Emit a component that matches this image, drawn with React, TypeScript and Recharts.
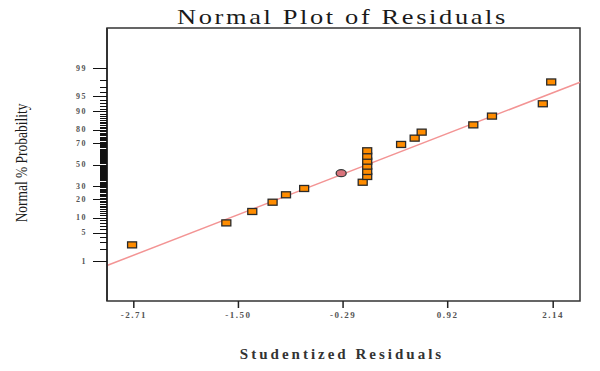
import { ScatterChart, Scatter, XAxis, YAxis, ReferenceLine, ReferenceArea } from "recharts";

// studentized residuals vs normal % probability
const residuals = [-2.73, -1.64, -1.34, -1.105, -0.95, -0.74, -0.063, -0.011, -0.011, -0.011, -0.011, -0.011, -0.011, 0.381, 0.538, 0.619, 1.216, 1.432, 2.02, 2.117];
const probs = [2.6, 7.9, 12.8, 18.1, 23.2, 28.1, 33.4, 38.6, 43.3, 48.4, 53.2, 57.9, 63.0, 68.6, 73.8, 78.3, 83.1, 87.9, 92.9, 97.7];

// the one round marker
const circleResidual = [-0.312];
const circleProb = [41.7];

// fitted reference line ends (residual, %)
const lineResidual = [-3.02, 2.45];
const lineProb = [0.73, 97.67];

const xTicks = [-2.71, -1.5, -0.29, 0.92, 2.14];
const xDomain = [-3.02, 2.45];
const labeledProbs = [1, 5, 10, 20, 30, 50, 70, 80, 90, 95, 99];
const minorProbs = Array.from({ length: 99 }, (_, i) => i + 1);

// inverse normal cdf (Acklam), used for the probability scale
function probit(pct: number) {
    const p = pct / 100;
    const a = [-39.69683028665376, 220.9460984245205, -275.9285104469687, 138.357751867269, -30.66479806614716, 2.506628277459239];
    const b = [-54.47609879822406, 161.5858368580409, -155.6989798598866, 66.80131188771972, -13.28068155288572];
    const c = [-0.007784894002430293, -0.3223964580411365, -2.400758277161838, -2.549732539343734, 4.374664141464968, 2.938163982698783];
    const d = [0.007784695709041462, 0.3224671290700398, 2.445134137142996, 3.754408661907416];
    const pl = 0.02425;
    if (p < pl) {
        const q = Math.sqrt(-2 * Math.log(p));
        return (((((c[0] * q + c[1]) * q + c[2]) * q + c[3]) * q + c[4]) * q + c[5]) / ((((d[0] * q + d[1]) * q + d[2]) * q + d[3]) * q + 1);
    }
    if (p > 1 - pl) {
        const q = Math.sqrt(-2 * Math.log(1 - p));
        return -(((((c[0] * q + c[1]) * q + c[2]) * q + c[3]) * q + c[4]) * q + c[5]) / ((((d[0] * q + d[1]) * q + d[2]) * q + d[3]) * q + 1);
    }
    const q = p - 0.5;
    const r = q * q;
    return ((((((a[0] * r + a[1]) * r + a[2]) * r + a[3]) * r + a[4]) * r + a[5]) * q) / (((((b[0] * r + b[1]) * r + b[2]) * r + b[3]) * r + b[4]) * r + 1);
}

const points = residuals.map((r, i) => ({ x: r, z: probit(probs[i]) }));
const circle = circleResidual.map((r, i) => ({ x: r, z: probit(circleProb[i]) }));
const yTicks = minorProbs.map(probit);

const SquareMark = (props: any) => {
    const { cx, cy } = props;
    return <rect x={cx - 4.5} y={cy - 3} width={9} height={6} fill="#ff8c00" stroke="#2a2a2a" strokeWidth={1.3} />;
};

const CircleMark = (props: any) => {
    const { cx, cy } = props;
    return <ellipse cx={cx} cy={cy} rx={5} ry={3.5} fill="#d9737b" stroke="#3a3a3a" strokeWidth={1.3} />;
};

const YTick = (props: any) => {
    const { x, y, index } = props;
    const p = minorProbs[index];
    const major = labeledProbs.includes(p);
    return (
        <g>
            <line
                x1={x - (major ? 14 : 7)}
                x2={x}
                y1={Math.round(y) + 0.5}
                y2={Math.round(y) + 0.5}
                stroke="#111"
                strokeWidth={1}
                shapeRendering="crispEdges"
            />
            {major && (
                <text
                    x={x - 20}
                    y={y}
                    dy="0.35em"
                    textAnchor="end"
                    fontFamily="Liberation Serif"
                    fontWeight="bold"
                    fontSize={8}
                    letterSpacing={1.5}
                    fill="#555"
                >
                    {p}
                </text>
            )}
        </g>
    );
};

export default function App() {
    return (
        <div style={{ position: "absolute", left: 0, top: 0, width: 600, height: 371, background: "#fff" }}>
            <div
                style={{
                    position: "absolute",
                    left: 177,
                    top: 4,
                    transform: "scaleX(1.2)",
                    transformOrigin: "left center",
                    fontFamily: "Liberation Serif",
                    fontSize: 22,
                    letterSpacing: 2.2,
                    color: "#1a1a1a",
                    whiteSpace: "nowrap",
                }}
            >
                Normal Plot of Residuals
            </div>
            <div
                style={{
                    position: "absolute",
                    left: 22,
                    top: 163,
                    transform: "translate(-50%, -50%) rotate(-90deg) scaleX(0.84)",
                    fontFamily: "Liberation Serif",
                    fontSize: 16,
                    color: "#1a1a1a",
                    whiteSpace: "nowrap",
                }}
            >
                Normal % Probability
            </div>
            <div
                style={{
                    position: "absolute",
                    left: 342,
                    top: 354,
                    transform: "translate(-50%, -50%)",
                    fontFamily: "Liberation Serif",
                    fontSize: 15,
                    fontWeight: "bold",
                    letterSpacing: 3,
                    color: "#333",
                    whiteSpace: "nowrap",
                }}
            >
                Studentized Residuals
            </div>
            <ScatterChart width={600} height={371} margin={{ top: 28, right: 20, left: 0, bottom: 0 }}>
                <XAxis
                    type="number"
                    dataKey="x"
                    domain={xDomain}
                    ticks={xTicks}
                    allowDataOverflow
                    interval={0}
                    height={70}
                    axisLine={false}
                    tickSize={7}
                    tickMargin={4}
                    tickLine={{ stroke: "#222", strokeWidth: 1.5 }}
                    tickFormatter={(v: number) => v.toFixed(2)}
                    tick={{ fontFamily: "Liberation Serif", fontWeight: "bold", fontSize: 9, letterSpacing: 1.5, fill: "#555" }}
                />
                <YAxis
                    type="number"
                    dataKey="z"
                    domain={[-3.3, 3.3]}
                    ticks={yTicks}
                    allowDataOverflow
                    interval={0}
                    width={107}
                    tickSize={0}
                    tickMargin={0}
                    tickLine={false}
                    axisLine={{ stroke: "#333", strokeWidth: 2 }}
                    tick={<YTick />}
                />
                <ReferenceArea
                    x1={xDomain[0]}
                    x2={xDomain[1]}
                    y1={-3.3}
                    y2={3.3}
                    fill="none"
                    fillOpacity={0}
                    stroke="#333"
                    strokeWidth={1.5}
                    ifOverflow="visible"
                />
                <ReferenceLine
                    segment={[
                        { x: lineResidual[0], y: probit(lineProb[0]) },
                        { x: lineResidual[1], y: probit(lineProb[1]) },
                    ]}
                    stroke="#f39494"
                    strokeWidth={1.5}
                />
                <Scatter data={points} shape={<SquareMark />} isAnimationActive={false} />
                <Scatter data={circle} shape={<CircleMark />} isAnimationActive={false} />
            </ScatterChart>
        </div>
    );
}
